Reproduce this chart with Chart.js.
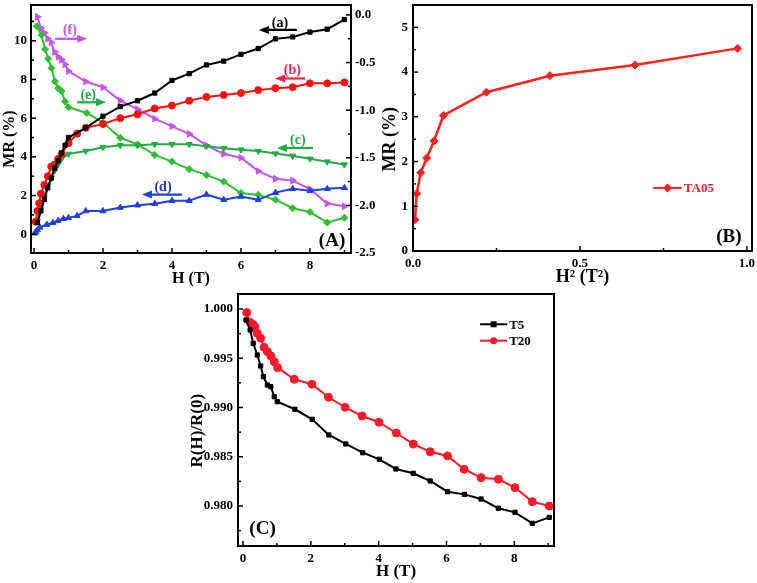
<!DOCTYPE html>
<html><head><meta charset="utf-8">
<script src="https://cdn.jsdelivr.net/npm/chart.js@4.4.1/dist/chart.umd.min.js"></script>
<style>
html,body{margin:0;padding:0;background:#fff;}
#wrap{position:relative;width:757px;height:583px;overflow:hidden;background:#fff;}
canvas{position:absolute;}
</style></head><body>
<div id="wrap">
<canvas id="cA" width="380" height="290" style="left:0;top:0"></canvas>
<canvas id="cB" width="377" height="290" style="left:380px;top:0"></canvas>
<canvas id="cC" width="390" height="298" style="left:180px;top:285px"></canvas>
</div>
<script>
// ---------------- DATA ----------------
// Panel A (left axis: MR %, right axis: second MR scale)
const aH  = [0.1,0.2,0.3,0.4,0.5,0.6,0.7,0.8,0.9,1.0,1.5,2.0,2.5,3.0,3.5,4.0,4.5,5.0,5.5,6.0,6.5,7.0,7.5,8.0,8.5,9.0];
const aMR = [0.6,1.2,1.8,2.4,2.9,3.4,3.8,4.2,4.6,5.0,5.5,6.1,6.6,6.9,7.3,7.95,8.3,8.75,8.95,9.3,9.6,10.1,10.2,10.45,10.6,11.1];
const bH  = [0.05,0.1,0.15,0.2,0.3,0.4,0.5,0.6,0.7,0.8,1.0,1.25,1.5,2.0,2.5,3.0,3.5,4.0,4.5,5.0,5.5,6.0,6.5,7.0,7.5,8.0,8.5,9.0];
const bMR = [0.65,1.2,1.6,2.1,2.55,3.0,3.5,3.6,3.9,4.15,4.7,5.2,5.5,5.7,6.0,6.2,6.5,6.65,6.9,7.1,7.2,7.3,7.45,7.55,7.6,7.8,7.8,7.85];
const cH  = [0.1,0.2,0.3,0.4,0.5,0.6,0.7,0.8,1.0,1.5,2.0,2.5,3.0,3.5,4.0,4.5,5.0,5.5,6.0,6.5,7.0,7.5,8.0,8.5,9.0];
const cMR = [0.7,1.3,1.9,2.5,2.9,3.3,3.6,3.9,4.15,4.3,4.5,4.6,4.6,4.65,4.65,4.65,4.55,4.45,4.37,4.3,4.17,4.05,3.9,3.75,3.6];
const dH  = [0.02,0.05,0.1,0.17,0.37,0.55,0.7,0.85,1.0,1.25,1.5,2.0,2.5,3.0,3.5,4.0,4.5,5.0,5.5,6.0,6.5,7.0,7.5,8.0,8.5,9.0];
const dMR = [0.05,0.12,0.22,0.35,0.5,0.6,0.7,0.8,0.85,0.95,1.2,1.2,1.38,1.5,1.58,1.73,1.73,2.05,1.78,1.95,1.78,2.15,2.35,2.25,2.35,2.4];
const eH  = [0.08,0.22,0.32,0.41,0.51,0.61,0.7,0.8,0.9,1.0,1.53,2.0,2.5,3.0,3.5,4.0,4.5,5.0,5.5,6.0,6.5,7.0,7.5,8.0,8.5,9.0];
const eMR = [-0.12,-0.21,-0.36,-0.46,-0.56,-0.70,-0.77,-0.80,-0.91,-0.97,-1.03,-1.13,-1.29,-1.36,-1.47,-1.54,-1.62,-1.68,-1.75,-1.87,-1.89,-1.94,-2.03,-2.07,-2.18,-2.13];
const fH  = [0.1,0.2,0.3,0.4,0.5,0.6,0.7,0.8,0.9,1.0,1.5,2.0,2.5,3.0,3.5,4.0,4.5,5.0,5.5,6.0,6.5,7.0,7.5,8.0,8.5,9.0];
const fMR = [-0.02,-0.14,-0.19,-0.25,-0.29,-0.39,-0.44,-0.47,-0.52,-0.59,-0.70,-0.76,-0.90,-0.99,-1.09,-1.17,-1.25,-1.37,-1.46,-1.50,-1.64,-1.72,-1.74,-1.83,-1.98,-2.01];
const aXTicks  = [0,2,4,6,8];
const aYTicks  = [0,2,4,6,8,10];
const aY2Ticks = [-2.5,-2.0,-1.5,-1.0,-0.5,0.0];

// Panel B
const H2   = [0.006,0.011,0.023,0.041,0.063,0.091,0.22,0.41,0.665,0.972];
const TA05 = [0.70,1.28,1.75,2.08,2.46,3.03,3.55,3.92,4.16,4.53];
const bXTicks = [0,0.5,1.0];
const bYTicks = [0,1,2,3,4,5];

// Panel C
const hT5  = [0.09,0.21,0.3,0.42,0.52,0.6,0.72,0.82,0.92,1.01,1.53,2.04,2.53,3.03,3.53,4.02,4.51,5.02,5.52,6.03,6.53,7.02,7.53,8.02,8.53,9.03];
const T5   = [0.99888,0.99787,0.99652,0.99533,0.99421,0.99313,0.99228,0.99211,0.9911,0.99059,0.98982,0.9888,0.98721,0.9863,0.98541,0.98474,0.98376,0.98332,0.98254,0.98145,0.98118,0.98071,0.97977,0.97936,0.97824,0.97885];
const hT20 = [0.11,0.21,0.29,0.35,0.42,0.52,0.62,0.72,0.82,0.92,1.02,1.51,2.03,2.52,3.01,3.51,4.01,4.52,5.02,5.52,6.03,6.52,7.02,7.53,8.02,8.53,9.03];
const T20  = [0.99963,0.99865,0.99845,0.9982,0.99753,0.99703,0.99611,0.99567,0.99523,0.99465,0.99404,0.99286,0.99236,0.99104,0.99002,0.98914,0.9885,0.98741,0.98629,0.98551,0.98508,0.98373,0.98287,0.98271,0.98186,0.98044,0.98];
const cXTicks = [0,2,4,6,8];
const cYTicks = [0.980,0.985,0.990,0.995,1.000];

// ---------------- HELPERS ----------------
const FAM = '"Liberation Serif","Times New Roman",serif';
const pts = (xs, ys) => xs.map((x, i) => ({x: x, y: ys[i]}));
const tickFont = {family: FAM, size: 13, weight: 'bold'};
const SHIFT = '     '; // trailing spaces: Origin placed the y titles slightly below centre

function ds(label, data, color, style, rot, yAxis, r) {
  return {label, data, borderColor: color, backgroundColor: color,
    pointBackgroundColor: color, pointBorderColor: color,
    pointStyle: style, pointRotation: rot || 0, pointRadius: r || 3.5,
    pointBorderWidth: 1, borderWidth: 2, tension: 0, yAxisID: yAxis || 'y', fill: false};
}

function linScale(pos, min, max, ticks, size, pad, fmt, title, titlePad, titleSize) {
  const horiz = pos === 'bottom';
  return {
    type: 'linear', position: pos, min, max,
    grid: {display: false, drawTicks: false}, border: {display: false},
    ticks: {font: tickFont, color: '#000', padding: pad, autoSkip: false, maxRotation: 0,
      callback: v => fmt ? fmt(v) : String(v)},
    title: title ? {display: true, text: title, color: '#000',
      font: {family: FAM, size: titleSize || 18, weight: 'bold'},
      padding: horiz ? {top: 0, bottom: titlePad} : {top: titlePad, bottom: 0}} : {display: false},
    afterBuildTicks: s => { s.ticks = ticks.map(v => ({value: v})); },
    afterFit: s => {
      if (horiz) { s.height = size; s.paddingLeft = 0; s.paddingRight = 0; }
      else { s.width = size; s.paddingTop = 0; s.paddingBottom = 0; }
    }
  };
}

const framePlugin = {
  id: 'frame',
  afterDraw(chart, args, o) {
    const ctx = chart.ctx, a = chart.chartArea;
    ctx.save();
    ctx.strokeStyle = '#000';
    ctx.lineWidth = 1.5;
    (o.ticks || []).forEach(t => {
      const s = chart.scales[t.id];
      const draw = (v, len) => {
        const p = s.getPixelForValue(v);
        ctx.beginPath();
        if (t.side === 'bottom') { ctx.moveTo(p, a.bottom); ctx.lineTo(p, a.bottom - len); }
        else if (t.side === 'left') { ctx.moveTo(a.left, p); ctx.lineTo(a.left + len, p); }
        else { ctx.moveTo(a.right, p); ctx.lineTo(a.right - len, p); }
        ctx.stroke();
      };
      s.ticks.forEach(tk => draw(tk.value, 5));
      const lo = Math.min(s.min, s.max), hi = Math.max(s.min, s.max);
      const base = s.ticks[0].value;
      for (let k = -40; k < 80; k++) {
        const v = base + t.minor * k;
        if (v <= lo + 1e-9 || v >= hi - 1e-9) continue;
        if (s.ticks.some(tk => Math.abs(tk.value - v) < t.minor * 0.1)) continue;
        draw(v, 3);
      }
    });
    ctx.lineWidth = 2;
    ctx.strokeRect(a.left, a.top, a.right - a.left, a.bottom - a.top);
    const X = (sc, v) => chart.scales[sc].getPixelForValue(v);
    (o.arrows || []).forEach(w => {
      const x1 = X(w.xs || 'x', w.x1), x2 = X(w.xs || 'x', w.x2), y = X(w.ys || 'y', w.y);
      ctx.strokeStyle = w.color; ctx.fillStyle = w.color; ctx.lineWidth = 2.2;
      const hx = w.head === 'left' ? x1 : x2, dir = w.head === 'left' ? 1 : -1;
      ctx.beginPath(); ctx.moveTo(x1 + (w.head === 'left' ? 6 : 0), y); ctx.lineTo(x2 - (w.head === 'left' ? 0 : 6), y); ctx.stroke();
      ctx.beginPath(); ctx.moveTo(hx, y); ctx.lineTo(hx + dir * 10, y - 4); ctx.lineTo(hx + dir * 10, y + 4); ctx.closePath(); ctx.fill();
    });
    (o.legend || []).forEach(l => {
      const x1 = X('x', l.x1), x2 = X('x', l.x2), y = X(l.ys || 'y', l.y);
      ctx.strokeStyle = l.color; ctx.fillStyle = l.color; ctx.lineWidth = 2;
      ctx.beginPath(); ctx.moveTo(x1, y); ctx.lineTo(x2, y); ctx.stroke();
      const cx = (x1 + x2) / 2, r = l.r || 3.5;
      ctx.beginPath();
      if (l.style === 'rect') ctx.rect(cx - r, y - r, 2 * r, 2 * r);
      else if (l.style === 'rectRot') { ctx.moveTo(cx, y - r - 1); ctx.lineTo(cx + r + 1, y); ctx.lineTo(cx, y + r + 1); ctx.lineTo(cx - r - 1, y); ctx.closePath(); }
      else ctx.arc(cx, y, r, 0, Math.PI * 2);
      ctx.fill();
      ctx.font = 'bold 13px ' + FAM; ctx.textAlign = 'left'; ctx.textBaseline = 'middle';
      ctx.fillStyle = l.textColor || l.color;
      ctx.fillText(l.text, x2 + 2, y + 1);
    });
    (o.texts || []).forEach(t => {
      ctx.font = 'bold ' + (t.size || 14) + 'px ' + FAM;
      ctx.fillStyle = t.color || '#000'; ctx.textAlign = 'center'; ctx.textBaseline = 'middle';
      ctx.fillText(t.text, X(t.xs || 'x', t.x), X(t.ys || 'y', t.y));
    });
    ctx.restore();
  }
};

function make(id, datasets, scales, layoutPad, frame) {
  return new Chart(document.getElementById(id), {
    type: 'line',
    data: {datasets},
    options: {
      responsive: false, animation: false, devicePixelRatio: 1,
      layout: {padding: layoutPad},
      plugins: {legend: {display: false}, tooltip: {enabled: false}, frame},
      scales
    },
    plugins: [framePlugin]
  });
}

// ---------------- PANEL A ----------------
const RED = '#ff1010', GRN1 = '#22aa44', GRN2 = '#2fc02f', BLU = '#1f3fe0', MAG = '#c455ea';
make('cA', [
  ds('(a)', pts(aH, aMR), '#000000', 'rect', 0, 'y', 3),
  ds('(b)', pts(bH, bMR), RED, 'circle', 0, 'y', 3.5),
  ds('(c)', pts(cH, cMR), GRN1, 'triangle', 180, 'y', 3.5),
  ds('(d)', pts(dH, dMR), BLU, 'triangle', 0, 'y', 3.5),
  ds('(e)', pts(eH, eMR), GRN2, 'rectRot', 0, 'y2', 3.5),
  ds('(f)', pts(fH, fMR), MAG, 'triangle', 90, 'y2', 3.8)
], {
  x: linScale('bottom', -0.087, 9.19, aXTicks, 37, 5, null, 'H (T)', 2, 16),
  y: linScale('left', -0.97, 11.85, aYTicks, 31, 4, null, 'MR (%)' + SHIFT, 0.5, 16),
  y2: linScale('right', -2.5, 0.104, aY2Ticks, 29, 4, v => v.toFixed(1), null, 0)
}, {top: 3, right: 0, left: 0, bottom: 0}, {
  ticks: [{id: 'x', side: 'bottom', minor: 1}, {id: 'y', side: 'left', minor: 1}, {id: 'y2', side: 'right', minor: 0.25}],
  arrows: [
    {x1: 6.52, x2: 7.62, y: 10.56, color: '#000', head: 'left'},
    {x1: 6.99, x2: 7.86, y: 8.05, color: '#ee2244', head: 'left'},
    {x1: 7.04, x2: 8.09, y: 4.46, color: GRN1, head: 'left'},
    {x1: 3.13, x2: 4.29, y: 2.05, color: BLU, head: 'left'},
    {x1: 1.25, x2: 2.09, y: 6.82, color: GRN1, head: 'right'},
    {x1: 0.61, x2: 1.54, y: 10.1, color: MAG, head: 'right'}
  ],
  texts: [
    {text: '(a)', x: 7.13, y: 10.92, color: '#000'},
    {text: '(b)', x: 7.49, y: 8.46, color: '#ee2255'},
    {text: '(c)', x: 7.65, y: 4.87, color: GRN1},
    {text: '(d)', x: 3.74, y: 2.41, color: '#2233cc'},
    {text: '(e)', x: 1.57, y: 7.18, color: GRN1},
    {text: '(f)', x: 1.04, y: 10.56, color: MAG},
    {text: '(A)', x: 8.64, y: -0.35, color: '#000', size: 19}
  ]
});

// ---------------- PANEL B ----------------
make('cB', [
  Object.assign(ds('TA05', pts(H2, TA05), '#ff2020', 'rectRot', 0, 'y', 4), {borderWidth: 2.5})
], {
  x: linScale('bottom', 0, 1.015, bXTicks, 39, 5, v => v.toFixed(1), 'H² (T²)', 2, 18),
  y: linScale('left', 0, 5.5, bYTicks, 33, 5, null, 'MR (%)' + SHIFT, 0, 18)
}, {top: 3, right: 5, left: 0, bottom: 0}, {
  ticks: [{id: 'x', side: 'bottom', minor: 0.25}, {id: 'y', side: 'left', minor: 0.5}],
  legend: [{text: 'TA05', x1: 0.719, x2: 0.805, y: 1.41, color: '#ff2020', style: 'rectRot', r: 3.5}],
  texts: [{text: '(B)', x: 0.946, y: 0.3, color: '#000', size: 19}]
});

// ---------------- PANEL C ----------------
make('cC', [
  ds('T5', pts(hT5, T5), '#000000', 'rect', 0, 'y', 3),
  ds('T20', pts(hT20, T20), '#ff1a2a', 'circle', 0, 'y', 4)
], {
  x: linScale('bottom', -0.148, 9.17, cXTicks, 37, 5, null, 'H (T)', 1.5, 17),
  y: linScale('left', 0.97594, 1.00152, cYTicks, 58, 5, v => v.toFixed(3), 'R(H)/R(0)' + SHIFT, 7, 17)
}, {top: 9, right: 16, left: 0, bottom: 0}, {
  ticks: [{id: 'x', side: 'bottom', minor: 1}, {id: 'y', side: 'left', minor: 0.0025}],
  legend: [
    {text: 'T5', x1: 6.99, x2: 7.79, y: 0.998445, color: '#000', style: 'rect', r: 3},
    {text: 'T20', x1: 6.99, x2: 7.79, y: 0.996782, color: '#ff1a2a', style: 'circle', r: 3.5, textColor: '#000'}
  ],
  texts: [{text: '(C)', x: 0.575, y: 0.97767, color: '#000', size: 19}]
});
</script>
</body></html>
